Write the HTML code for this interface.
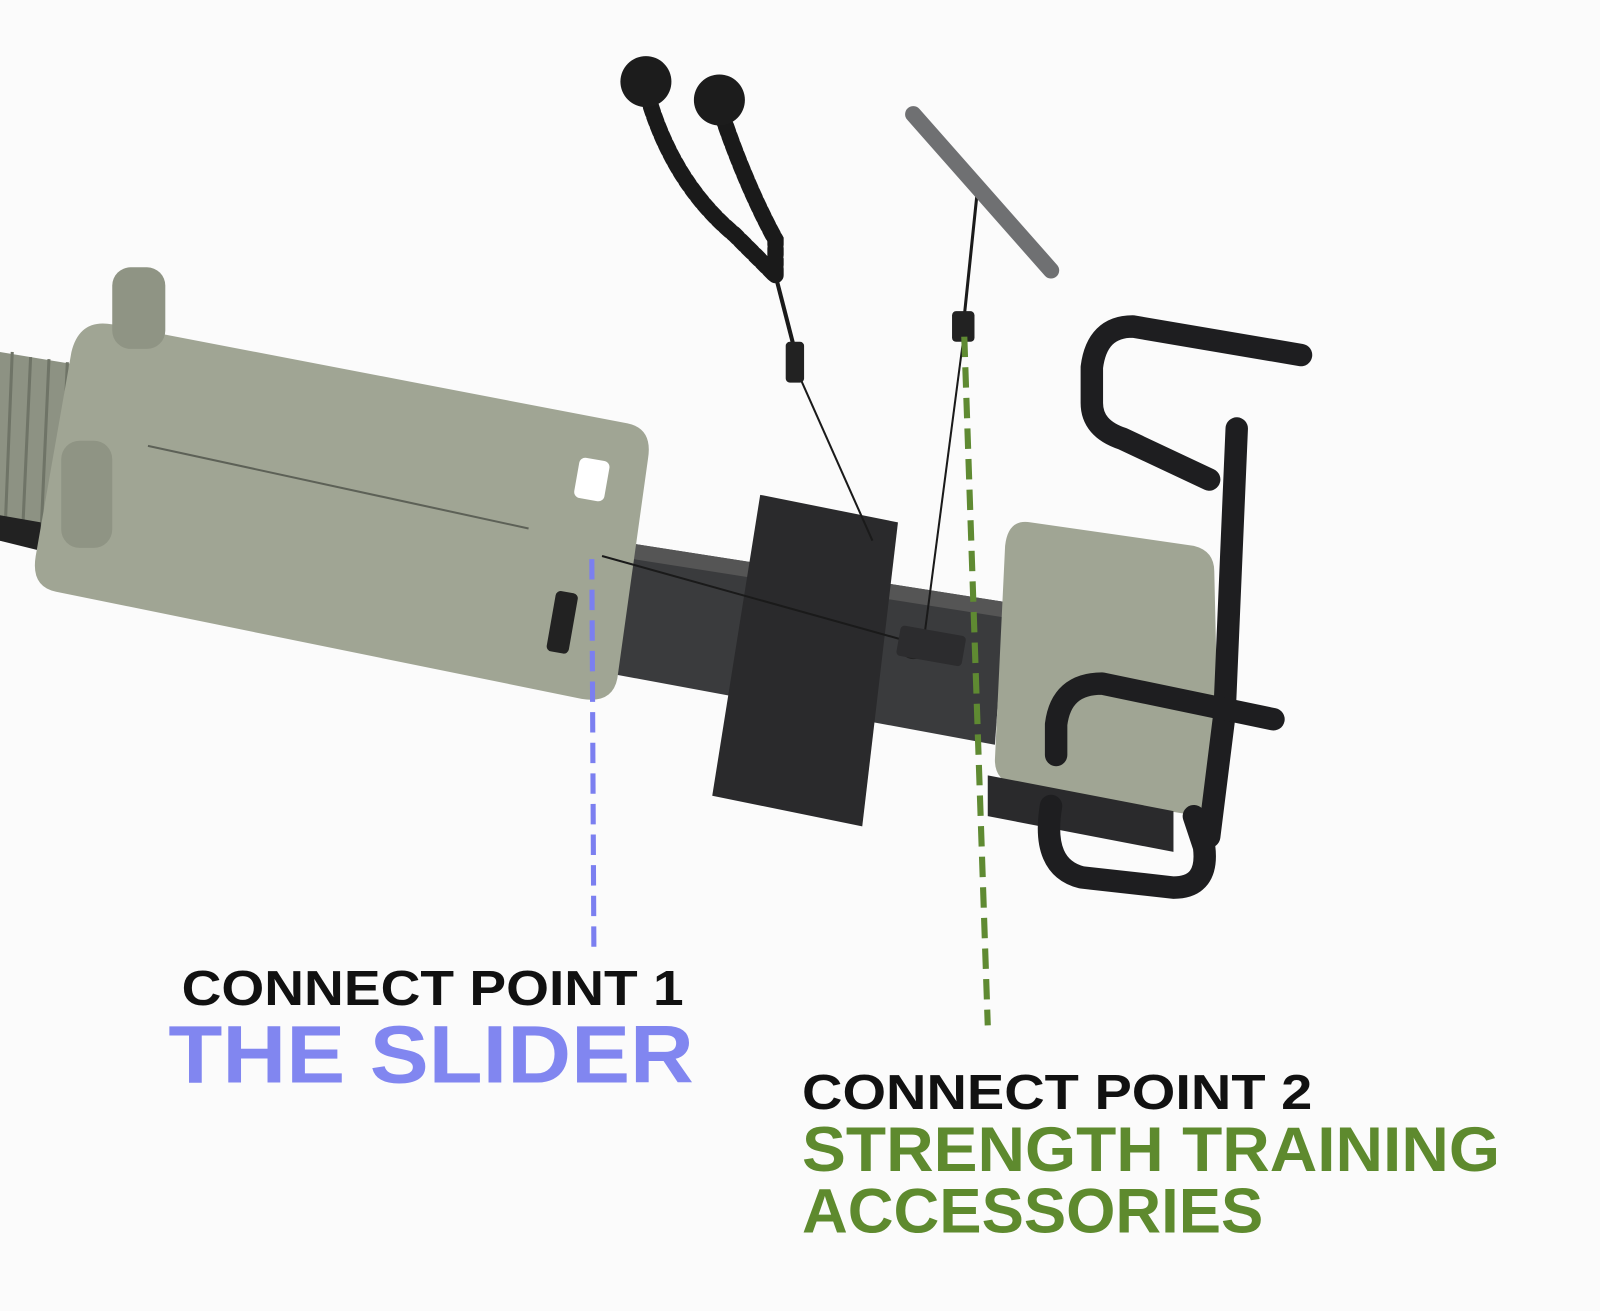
<!DOCTYPE html>
<html><head><meta charset="utf-8"><style>
html,body{margin:0;padding:0;background:#fbfbfb;}
svg{display:block;}
text{font-family:"Liberation Sans",sans-serif;font-weight:bold;}
</style></head><body>
<svg width="1600" height="1311" viewBox="0 0 1568 1285" preserveAspectRatio="none" xmlns="http://www.w3.org/2000/svg">
<rect width="1568" height="1285" fill="#fbfbfb"/>
<polygon points="0,345 90,360 60,540 0,530" fill="#8d9283"/>
<g stroke="#6f7467" stroke-width="3">
<line x1="12" y1="345" x2="5" y2="520"/><line x1="30" y1="350" x2="22" y2="525"/><line x1="48" y1="352" x2="40" y2="528"/><line x1="66" y1="355" x2="58" y2="532"/>
</g>
<polygon points="0,505 40,512 40,540 0,530" fill="#222"/>
<polygon points="570,525 985,590 975,730 570,655" fill="#3a3b3d"/>
<polygon points="570,525 985,590 983,605 570,540" fill="#555"/>
<polygon points="745,485 880,512 845,810 698,780" fill="#2a2a2c"/>
<path d="M110,318 L615,415 Q640,420 635,450 L605,665 Q600,690 570,685 L55,580 Q30,575 35,545 L70,345 Q78,312 110,318 Z" fill="#a0a594"/>
<line x1="145" y1="437" x2="518" y2="518" stroke="#5d6157" stroke-width="2"/>
<rect x="565" y="450" width="30" height="40" rx="6" fill="#fff" transform="rotate(10 580 470)"/>
<rect x="540" y="580" width="22" height="60" rx="5" fill="#222" transform="rotate(10 551 610)"/>
<rect x="110" y="262" width="52" height="80" rx="18" fill="#8f9484"/>
<rect x="60" y="432" width="50" height="105" rx="18" fill="#8f9484"/>
<path d="M1010,512 L1170,535 Q1190,540 1190,560 L1195,780 Q1195,800 1175,800 L995,770 Q975,765 975,745 L985,535 Q988,508 1010,512 Z" fill="#a0a594"/>
<polygon points="968,760 1150,795 1150,835 968,800" fill="#2a2a2c"/>
<g fill="none" stroke="#1e1e20" stroke-width="22" stroke-linecap="round" stroke-linejoin="round">
<path d="M1275,348 L1110,320 Q1075,320 1070,360 L1070,395 Q1070,420 1100,430 L1185,470"/>
<path d="M1212,420 L1200,700 L1185,820"/>
<path d="M1248,705 L1080,670 Q1040,670 1035,710 L1035,740"/>
<path d="M1030,790 Q1020,850 1060,860 L1150,870 Q1185,870 1180,830 L1170,800"/>
</g>
<g stroke="#1a1a1a" stroke-width="2">
<line x1="775" y1="350" x2="855" y2="530"/>
<line x1="945" y1="325" x2="905" y2="630"/>
<line x1="590" y1="545" x2="895" y2="630"/>
<line x1="760" y1="270" x2="778" y2="340" stroke-width="4"/>
<line x1="958" y1="185" x2="945" y2="310" stroke-width="3"/>
</g>
<circle cx="895" cy="632" r="14" fill="#222"/>
<rect x="880" y="618" width="65" height="30" rx="4" fill="#2c2c2e" transform="rotate(10 912 633)"/>
<g fill="none" stroke="#1a1a1a" stroke-width="16" stroke-linecap="round" stroke-dasharray="6,4">
<path d="M635,95 Q660,180 720,230 L760,270"/>
<path d="M705,105 Q730,180 760,235 L760,270"/>
</g>
<circle cx="633" cy="80" r="25" fill="#1c1c1c"/>
<circle cx="705" cy="98" r="25" fill="#1c1c1c"/>
<rect x="770" y="335" width="18" height="40" rx="4" fill="#222"/>
<rect x="933" y="305" width="22" height="30" rx="4" fill="#222"/>
<line x1="895" y1="112" x2="1030" y2="265" stroke="#6f7072" stroke-width="16" stroke-linecap="round"/>
<line x1="580" y1="548" x2="582" y2="930" stroke="#7b7ff0" stroke-width="5" stroke-dasharray="20,10"/>
<line x1="945" y1="330" x2="968" y2="1005" stroke="#5f8a32" stroke-width="6" stroke-dasharray="20,10"/>
<text x="178" y="985" font-size="48" fill="#111" textLength="492" lengthAdjust="spacingAndGlyphs">CONNECT POINT 1</text>
<text x="165" y="1061" font-size="80" fill="#8186f0" textLength="515" lengthAdjust="spacingAndGlyphs">THE SLIDER</text>
<text x="786" y="1087" font-size="48" fill="#111" textLength="500" lengthAdjust="spacingAndGlyphs">CONNECT POINT 2</text>
<text x="786" y="1148" font-size="62" fill="#5e8a2e" textLength="684" lengthAdjust="spacingAndGlyphs">STRENGTH  TRAINING</text>
<text x="786" y="1208" font-size="62" fill="#5e8a2e" textLength="452" lengthAdjust="spacingAndGlyphs">ACCESSORIES</text>
</svg>
</body></html>
